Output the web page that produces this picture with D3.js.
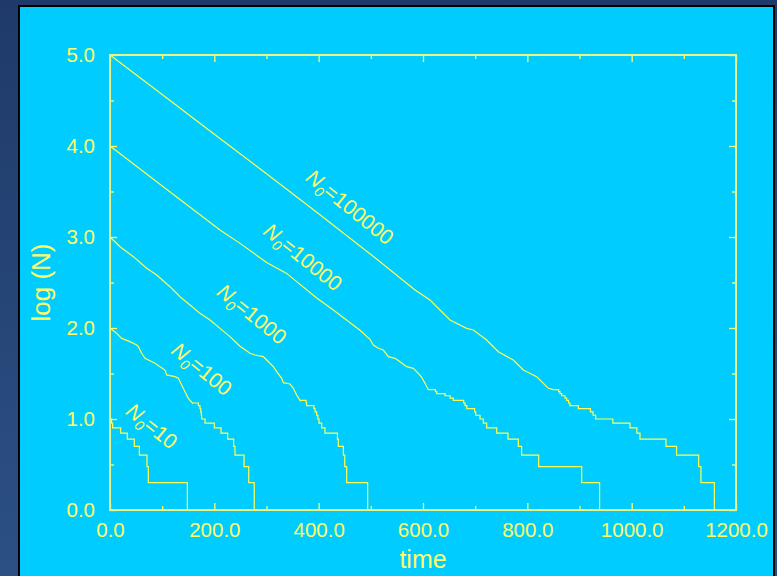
<!DOCTYPE html>
<html>
<head>
<meta charset="utf-8">
<script src="https://cdn.jsdelivr.net/npm/d3@7"></script>
<style>
  html, body { margin: 0; padding: 0; background: #22406e; }
  svg { display: block; }
  text { font-family: "Liberation Sans", Arial, sans-serif; }
</style>
</head>
<body>
<svg id="chart" width="777" height="576"></svg>
<script>
// Simulated radioactive decay: log10 of surviving nuclei versus time,
// for five different starting populations N0.

// Axis ticks
const xMajor = [0, 200, 400, 600, 800, 1000, 1200];
const xMinor = [100, 300, 500, 700, 900, 1100];
const yMajor = [0, 1, 2, 3, 4, 5];
const yMinor = [0.5, 1.5, 2.5, 3.5, 4.5];
const xTickLabels = ["0.0", "200.0", "400.0", "600.0", "800.0", "1000.0", "1200.0"];
const yTickLabels = ["0.0", "1.0", "2.0", "3.0", "4.0", "5.0"];

// Series labels (initial counts)
const startCounts = ["10", "100", "1000", "10000", "100000"];

// Smooth parts of each curve: [time, log10 N]
const n100Trace = [[0, 2.0], [12.8, 1.941], [22.4, 1.886], [38.3, 1.850], [51.1, 1.813], [54.3, 1.795],
  [60.7, 1.722], [67.1, 1.667], [86.3, 1.612], [95.8, 1.575], [105.4, 1.538], [108.6, 1.484],
  [124.6, 1.465], [131, 1.447], [137.4, 1.374], [143.8, 1.300], [150.1, 1.227], [157.8, 1.176]];
const n1000Trace = [[0, 3.0], [19.2, 2.893], [44.7, 2.784], [70.3, 2.656], [89.5, 2.582], [115, 2.454],
  [134.2, 2.344], [153.4, 2.253], [172.5, 2.161], [191.7, 2.088], [210.9, 1.996], [230, 1.905],
  [249.2, 1.800], [268.4, 1.722], [278, 1.703], [293.9, 1.685], [300.3, 1.648], [313.1, 1.575],
  [319.5, 1.520], [329, 1.447], [332.3, 1.399], [345, 1.385], [351.4, 1.337], [357.8, 1.264], [364.2, 1.204]];
const n10000Trace = [[0, 4.0], [63.9, 3.72], [127.8, 3.44], [210.9, 3.077], [249.2, 2.930], [300.3, 2.72],
  [338.6, 2.60], [396.2, 2.33], [428.1, 2.198], [479.2, 1.975], [498.4, 1.876], [504.8, 1.813],
  [514.4, 1.777], [524, 1.758], [533.5, 1.685], [546.3, 1.667], [555.9, 1.630], [568.7, 1.575],
  [581.4, 1.557], [591, 1.502], [597.5, 1.458], [603.8, 1.392], [610.2, 1.322]];
const n100000Trace = [[0, 5.0], [100, 4.565], [200, 4.13], [300, 3.695], [400, 3.255], [517.6, 2.729],
  [584.7, 2.418], [613.4, 2.308], [651.8, 2.088], [683.7, 1.996], [696.4, 1.978], [722, 1.868],
  [744.4, 1.740], [773, 1.648], [792.3, 1.538], [817.9, 1.465], [824.3, 1.429], [840.3, 1.337], [849.8, 1.322]];

// Discrete decay events once few nuclei remain: [time, N after the event]
const n10Steps = [[0, 10], [3, 9], [5, 8], [20.4, 7], [33.2, 6], [46.6, 5], [56.3, 4], [70.9, 3], [73.5, 2], [148.3, 1]];
const n100Steps = [[157.8, 15], [169.3, 14], [172.5, 13], [174, 12], [175, 11], [175.7, 10], [182.1, 9],
  [200, 8], [212.8, 7], [225.6, 6], [237, 5], [239.6, 4], [257, 3], [266, 2], [276.5, 1]];
const n1000Steps = [[364.2, 16], [376, 15], [377, 14], [391, 13], [393, 12], [396.2, 11], [398.5, 10],
  [400.6, 9], [405.8, 8], [412.1, 7], [436, 6], [437.7, 5], [447.3, 4], [450, 3], [453.7, 2], [493.9, 1]];
const n10000Steps = [[610.2, 21], [624, 20], [626.2, 19], [642.2, 18], [652, 17], [658, 16], [678, 15],
  [680.5, 14], [684, 13], [699, 12], [701, 11], [709.3, 10], [715.6, 9], [722, 8], [741.3, 7],
  [763, 6], [782.7, 5], [789, 4], [821.7, 3], [904.2, 2], [938.5, 1]];
const n100000Steps = [[849.8, 21], [860, 20], [862.6, 19], [866, 18], [872.2, 17], [875.4, 16], [879, 15],
  [881.8, 14], [897.8, 13], [921, 12], [926, 11], [931, 10], [964, 9], [996.8, 8], [1010, 7],
  [1016, 6], [1065.8, 5], [1086, 4], [1128.4, 3], [1132.8, 2], [1158.5, 1]];

const traces = [[], n100Trace, n1000Trace, n10000Trace, n100000Trace];
const steps = [n10Steps, n100Steps, n1000Steps, n10000Steps, n100000Steps];

// ---- layout ----
const W = 777, H = 576;
const plot = { left: 110, right: 736, top: 55, bottom: 510 };
const ink = "#ffff66";
const lineInk = "#ffff50";

const svg = d3.select("#chart");
const defs = svg.append("defs");
const grad = defs.append("linearGradient").attr("id", "navy")
  .attr("x1", 0).attr("y1", 0).attr("x2", 0).attr("y2", 1);
grad.append("stop").attr("offset", "0%").attr("stop-color", "#1f3a6a");
grad.append("stop").attr("offset", "100%").attr("stop-color", "#2c5083");

svg.append("rect").attr("width", W).attr("height", H).attr("fill", "url(#navy)");
svg.append("rect").attr("x", 19).attr("y", 6).attr("width", 755).attr("height", H + 10)
  .attr("fill", "#00ccff").attr("stroke", "#000").attr("stroke-width", 2);

const x = d3.scaleLinear().domain([0, 1200]).range([plot.left, plot.right]);
const y = d3.scaleLinear().domain([0, 5]).range([plot.bottom, plot.top]);

// ---- axes (ticks point inward on all four sides) ----
function styleAxis(g) {
  g.select(".domain").remove();
  g.selectAll(".tick line").attr("stroke", ink).attr("stroke-width", 1.3);
  g.selectAll(".tick text").attr("fill", ink).attr("font-size", "20.5px")
    .attr("font-family", "'Liberation Sans', Arial, sans-serif");
}

const fmtX = (d) => xTickLabels[xMajor.indexOf(d)];
const fmtY = (d) => yTickLabels[yMajor.indexOf(d)];

svg.append("g").attr("transform", `translate(0,${plot.bottom})`)
  .call(d3.axisBottom(x).tickValues(xMajor).tickSize(-7).tickPadding(12).tickFormat(fmtX)).call(styleAxis);
svg.append("g").attr("transform", `translate(0,${plot.bottom})`)
  .call(d3.axisBottom(x).tickValues(xMinor).tickSize(-4).tickFormat("")).call(styleAxis);
svg.append("g").attr("transform", `translate(0,${plot.top})`)
  .call(d3.axisTop(x).tickValues(xMajor).tickSize(-7).tickFormat("")).call(styleAxis);
svg.append("g").attr("transform", `translate(0,${plot.top})`)
  .call(d3.axisTop(x).tickValues(xMinor).tickSize(-4).tickFormat("")).call(styleAxis);

svg.append("g").attr("transform", `translate(${plot.left},0)`)
  .call(d3.axisLeft(y).tickValues(yMajor).tickSize(-7).tickPadding(15).tickFormat(fmtY)).call(styleAxis);
svg.append("g").attr("transform", `translate(${plot.left},0)`)
  .call(d3.axisLeft(y).tickValues(yMinor).tickSize(-4).tickFormat("")).call(styleAxis);
svg.append("g").attr("transform", `translate(${plot.right},0)`)
  .call(d3.axisRight(y).tickValues(yMajor).tickSize(-7).tickFormat("")).call(styleAxis);
svg.append("g").attr("transform", `translate(${plot.right},0)`)
  .call(d3.axisRight(y).tickValues(yMinor).tickSize(-4).tickFormat("")).call(styleAxis);

// frame
svg.append("rect")
  .attr("x", plot.left).attr("y", plot.top)
  .attr("width", plot.right - plot.left).attr("height", plot.bottom - plot.top)
  .attr("fill", "none").attr("stroke", "#e6f58a").attr("stroke-width", 2);

// ---- curves ----
const line = d3.line().x((d) => x(d[0])).y((d) => y(d[1]));

steps.forEach((ev, i) => {
  const pts = traces[i].map((d) => [d[0], d[1]]);
  ev.forEach((e, k) => {
    if (k === 0) {
      pts.push([e[0], Math.log10(e[1])]);
    } else {
      pts.push([e[0], Math.log10(ev[k - 1][1])]);
      pts.push([e[0], Math.log10(e[1])]);
    }
  });
  svg.append("path").datum(pts)
    .attr("d", line)
    .attr("fill", "none")
    .attr("stroke", lineInk)
    .attr("stroke-width", 1.2)
    .attr("stroke-linejoin", "miter");
});

// ---- curve labels ----
const labelPlace = [[152, 426], [202, 369], [252, 314], [303, 257], [350, 207]];
startCounts.forEach((c, i) => {
  const t = svg.append("text")
    .attr("transform", `translate(${labelPlace[i][0]},${labelPlace[i][1]}) rotate(39)`)
    .attr("text-anchor", "middle")
    .attr("dy", "0.35em")
    .attr("fill", ink)
    .attr("font-size", "21px");
  t.append("tspan").attr("font-style", "italic").text("N");
  t.append("tspan").attr("font-style", "italic").attr("font-size", "14px").attr("dy", "5").text("0");
  t.append("tspan").attr("dy", "-5").text("=" + c);
});

// ---- axis titles ----
svg.append("text")
  .attr("x", (plot.left + plot.right) / 2).attr("y", 568)
  .attr("text-anchor", "middle").attr("fill", ink).attr("font-size", "25px")
  .text("time");
svg.append("text")
  .attr("transform", `translate(50,${(plot.top + plot.bottom) / 2}) rotate(-90)`)
  .attr("text-anchor", "middle").attr("fill", ink).attr("font-size", "26px")
  .text("log (N)");
</script>
</body>
</html>
